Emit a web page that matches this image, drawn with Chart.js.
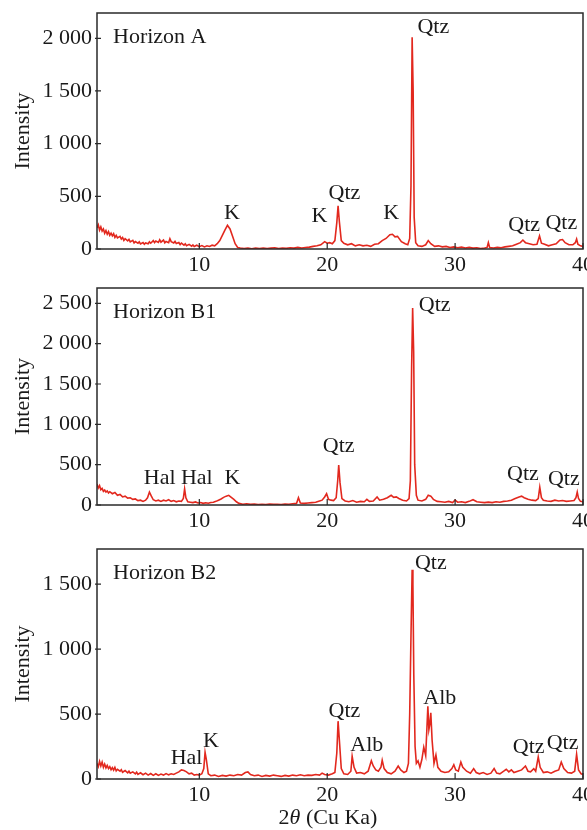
<!DOCTYPE html>
<html><head><meta charset="utf-8">
<script src="https://cdn.jsdelivr.net/npm/chart.js@4.4.1/dist/chart.umd.min.js"></script>
<style>
html,body{margin:0;padding:0;background:#fff;}
#wrap{position:relative;width:587px;height:830px;background:#fff;}
canvas{position:absolute;left:0;top:0;}
</style></head><body>
<div id="wrap">
<canvas id="cA" width="587" height="830"></canvas>
<canvas id="cB1" width="587" height="830"></canvas>
<canvas id="cB2" width="587" height="830"></canvas>
</div>
<script>
// ---- data (2θ in degrees, intensity in counts) ----
const xTickValues = [10, 20, 30, 40];
const yTicksA = [0, 500, 1000, 1500, 2000];
const yTicksB1 = [0, 500, 1000, 1500, 2000, 2500];
const yTicksB2 = [0, 500, 1000, 1500];

const seriesA = [[2.0,200],[2.1,230],[2.2,180],[2.3,210],[2.4,170],[2.5,190],[2.6,150],[2.7,175],[2.8,140],[2.9,165],[3.0,130],[3.1,150],[3.2,125],[3.3,145],[3.4,110],[3.5,130],[3.6,105],[3.8,120],[3.9,95],[4.0,110],[4.1,82],[4.2,98],[4.4,78],[4.5,92],[4.6,68],[4.8,82],[4.9,58],[5.0,70],[5.2,55],[5.3,68],[5.4,48],[5.6,62],[5.7,45],[5.8,58],[6.0,50],[6.1,68],[6.2,55],[6.4,80],[6.5,60],[6.6,75],[6.8,62],[6.9,88],[7.0,65],[7.2,85],[7.3,58],[7.4,72],[7.6,60],[7.7,98],[7.8,70],[8.0,58],[8.1,72],[8.2,52],[8.4,62],[8.5,42],[8.6,56],[8.8,36],[8.9,50],[9.0,32],[9.2,44],[9.4,26],[9.5,38],[9.6,24],[9.8,36],[10.0,22],[10.2,32],[10.4,20],[10.6,30],[10.8,24],[11.0,36],[11.2,30],[11.4,50],[11.6,80],[11.8,130],[12.0,180],[12.2,225],[12.4,190],[12.6,120],[12.8,50],[13.0,15],[13.2,10],[13.5,5],[13.8,10],[14.1,3],[14.4,8],[14.7,5],[15.0,10],[15.3,4],[15.6,8],[15.9,12],[16.2,5],[16.5,10],[16.8,6],[17.1,12],[17.4,8],[17.7,15],[18.0,10],[18.3,14],[18.6,18],[18.9,25],[19.2,30],[19.5,40],[19.8,70],[20.0,55],[20.2,60],[20.4,50],[20.6,80],[20.75,250],[20.85,410],[20.95,260],[21.1,80],[21.3,55],[21.6,40],[21.9,50],[22.2,30],[22.5,40],[22.8,30],[23.1,35],[23.4,25],[23.7,45],[24.0,50],[24.3,80],[24.6,100],[24.9,135],[25.1,140],[25.3,115],[25.5,120],[25.8,70],[26.1,50],[26.3,40],[26.45,100],[26.55,600],[26.64,2010],[26.72,1500],[26.8,300],[26.92,60],[27.1,30],[27.4,25],[27.7,40],[27.9,80],[28.1,50],[28.4,25],[28.7,30],[29.0,20],[29.3,25],[29.6,15],[29.9,20],[30.2,12],[30.5,18],[30.8,10],[31.1,15],[31.4,8],[31.7,12],[32.0,5],[32.3,10],[32.5,15],[32.6,60],[32.7,15],[33.0,10],[33.3,15],[33.6,12],[33.9,20],[34.2,25],[34.5,30],[34.8,45],[35.1,60],[35.3,85],[35.5,60],[35.8,50],[36.1,40],[36.4,45],[36.6,125],[36.75,55],[37.0,45],[37.3,30],[37.6,40],[37.9,50],[38.2,85],[38.4,90],[38.6,60],[38.9,40],[39.2,40],[39.4,60],[39.5,95],[39.6,45],[39.8,30],[40.0,25]];

const seriesB1 = [[2.0,260],[2.1,210],[2.2,240],[2.3,190],[2.4,205],[2.5,170],[2.6,185],[2.7,160],[2.8,175],[2.9,150],[3.0,165],[3.2,140],[3.4,155],[3.6,120],[3.8,130],[4.0,100],[4.2,110],[4.4,85],[4.6,90],[4.8,70],[5.0,75],[5.2,55],[5.4,60],[5.6,45],[5.8,60],[5.95,90],[6.1,160],[6.25,110],[6.4,65],[6.6,50],[6.8,60],[7.0,45],[7.2,60],[7.4,50],[7.6,65],[7.8,45],[8.0,55],[8.2,40],[8.4,50],[8.6,45],[8.75,80],[8.85,200],[8.95,90],[9.1,40],[9.3,35],[9.5,30],[9.7,38],[9.9,25],[10.1,30],[10.3,20],[10.5,28],[10.7,22],[10.9,30],[11.1,35],[11.3,45],[11.5,60],[11.7,75],[11.9,95],[12.1,110],[12.3,120],[12.5,95],[12.7,70],[12.9,40],[13.1,20],[13.4,10],[13.7,15],[14.0,8],[14.3,12],[14.6,6],[14.9,10],[15.2,5],[15.5,12],[15.8,8],[16.1,10],[16.4,6],[16.7,12],[17.0,10],[17.3,15],[17.6,20],[17.75,90],[17.9,25],[18.2,20],[18.5,25],[18.8,30],[19.1,35],[19.4,50],[19.6,60],[19.8,100],[19.95,140],[20.1,70],[20.3,60],[20.5,55],[20.7,90],[20.82,300],[20.9,496],[21.0,280],[21.15,80],[21.4,50],[21.7,40],[22.0,55],[22.3,35],[22.6,45],[22.9,40],[23.1,70],[23.3,45],[23.6,50],[23.9,100],[24.1,60],[24.4,70],[24.7,90],[25.0,120],[25.2,95],[25.4,100],[25.6,80],[25.9,60],[26.2,50],[26.4,80],[26.5,300],[26.6,1700],[26.68,2443],[26.76,1900],[26.84,500],[26.97,120],[27.1,60],[27.4,50],[27.7,70],[27.9,120],[28.1,110],[28.3,70],[28.6,45],[28.9,40],[29.2,35],[29.5,45],[29.8,30],[30.0,60],[30.2,35],[30.5,40],[30.8,30],[31.1,45],[31.4,65],[31.7,40],[32.0,35],[32.3,30],[32.6,35],[32.9,30],[33.2,40],[33.5,35],[33.8,45],[34.1,50],[34.4,60],[34.7,80],[35.0,100],[35.2,110],[35.4,90],[35.7,70],[36.0,60],[36.3,55],[36.5,80],[36.62,220],[36.75,90],[36.9,60],[37.2,50],[37.5,45],[37.8,60],[38.1,50],[38.4,55],[38.7,45],[39.0,50],[39.3,55],[39.45,90],[39.55,160],[39.65,80],[39.8,45],[40.0,40]];

const seriesB2 = [[2.0,120],[2.1,95],[2.2,135],[2.3,100],[2.4,130],[2.5,90],[2.6,115],[2.7,85],[2.8,105],[2.9,80],[3.0,95],[3.1,72],[3.2,88],[3.3,68],[3.4,90],[3.5,62],[3.6,75],[3.8,60],[3.9,72],[4.0,52],[4.2,65],[4.4,48],[4.5,60],[4.6,45],[4.8,55],[5.0,40],[5.1,52],[5.2,36],[5.4,48],[5.6,33],[5.8,45],[6.0,30],[6.2,42],[6.4,28],[6.6,40],[6.8,28],[7.0,38],[7.2,30],[7.4,42],[7.6,32],[7.8,40],[8.0,35],[8.2,45],[8.4,55],[8.6,70],[8.8,65],[9.0,55],[9.2,40],[9.4,45],[9.6,30],[9.8,35],[10.0,30],[10.2,40],[10.35,80],[10.45,205],[10.55,150],[10.7,40],[10.9,25],[11.2,30],[11.5,20],[11.8,28],[12.1,22],[12.4,30],[12.7,25],[13.0,35],[13.3,30],[13.6,50],[13.8,55],[14.0,35],[14.3,25],[14.6,30],[14.9,20],[15.2,28],[15.5,22],[15.8,30],[16.1,25],[16.4,20],[16.7,28],[17.0,22],[17.3,30],[17.6,25],[17.9,32],[18.2,25],[18.5,30],[18.8,28],[19.1,35],[19.4,30],[19.6,45],[19.8,35],[20.1,30],[20.4,40],[20.6,50],[20.75,200],[20.85,445],[20.95,300],[21.1,80],[21.3,40],[21.6,35],[21.85,60],[21.95,175],[22.1,90],[22.3,45],[22.6,50],[22.9,40],[23.2,60],[23.45,140],[23.6,100],[23.8,70],[24.0,60],[24.2,90],[24.3,145],[24.45,80],[24.7,50],[25.0,40],[25.3,60],[25.55,100],[25.75,70],[26.0,50],[26.2,60],[26.35,120],[26.45,500],[26.55,1100],[26.64,1610],[26.7,1500],[26.77,800],[26.87,250],[26.97,120],[27.1,140],[27.25,90],[27.4,150],[27.55,245],[27.7,180],[27.8,400],[27.87,560],[27.95,380],[28.02,420],[28.1,510],[28.2,300],[28.35,120],[28.5,185],[28.65,90],[28.9,60],[29.2,50],[29.5,55],[29.75,80],[29.9,110],[30.05,70],[30.25,60],[30.45,130],[30.6,90],[30.9,60],[31.2,45],[31.45,80],[31.65,50],[31.9,40],[32.2,50],[32.5,35],[32.8,45],[33.05,80],[33.25,45],[33.5,40],[33.8,60],[34.0,75],[34.2,55],[34.4,70],[34.6,50],[34.9,60],[35.2,70],[35.5,100],[35.7,60],[35.9,55],[36.15,80],[36.3,60],[36.5,170],[36.65,90],[36.9,50],[37.2,55],[37.5,45],[37.8,60],[38.1,70],[38.3,130],[38.5,80],[38.8,50],[39.1,45],[39.35,60],[39.5,190],[39.65,70],[39.85,40],[40.0,35]];

// peak labels: [text, 2θ, intensity at text baseline]
const labelsA = [['K',12.55,285],['K',19.4,257],['Qtz',21.35,476],['K',25.0,285],['Qtz',28.3,2048],['Qtz',35.4,170],['Qtz',38.3,190]];
const labelsB1 = [['Hal',6.9,260],['Hal',9.8,260],['K',12.6,260],['Qtz',20.9,657],['Qtz',28.4,2405],['Qtz',35.3,310],['Qtz',38.5,248]];
const labelsB2 = [['Hal',9.0,115],['K',10.9,245],['Qtz',21.35,475],['Alb',23.1,215],['Qtz',28.1,1615],['Alb',28.8,575],['Qtz',35.75,200],['Qtz',38.4,230]];

// ---- rendering ----
const FONT = "'Liberation Serif','Times New Roman',serif";
const FS = 22;
const INK = '#1a1a1a';
const RED = '#e2281e';
function fmt(v){ return String(v).replace(/\B(?=(\d{3})+(?!\d))/g, ' '); }

function makePanel(id, series, yMax, yTicks, labels, title, top, bottom, isLast){
  const xh = isLast ? 51 : 30;
  const deco = {
    id: 'deco_' + id,
    afterDraw(chart){
      const ctx = chart.ctx, a = chart.chartArea;
      const xs = chart.scales.x, ys = chart.scales.y;
      ctx.save();
      ctx.strokeStyle = '#2a2a2a';
      ctx.lineWidth = 1.5;
      ctx.strokeRect(a.left, a.top, a.right - a.left, a.bottom - a.top);
      ctx.lineWidth = 1.2;
      ctx.beginPath();
      xTickValues.forEach(v => { const p = xs.getPixelForValue(v); ctx.moveTo(p, a.bottom); ctx.lineTo(p, a.bottom - 6); });
      yTicks.forEach(v => { const p = ys.getPixelForValue(v); ctx.moveTo(a.left - 2, p); ctx.lineTo(a.left + 4, p); });
      ctx.stroke();
      ctx.fillStyle = INK;
      ctx.font = FS + 'px ' + FONT;
      ctx.textBaseline = 'alphabetic';
      ctx.textAlign = 'center';
      labels.forEach(l => ctx.fillText(l[0], xs.getPixelForValue(l[1]), ys.getPixelForValue(l[2])));
      ctx.textAlign = 'left';
      ctx.fillText(title, a.left + 16, a.top + 30);
      if (isLast){
        const parts = [['2', FS + 'px ' + FONT], ['θ', 'italic ' + FS + 'px ' + FONT], [' (Cu Ka)', FS + 'px ' + FONT]];
        let w = 0;
        parts.forEach(p => { ctx.font = p[1]; w += ctx.measureText(p[0]).width; });
        let x = (a.left + a.right) / 2 - 12 - w / 2;
        const y = a.bottom + 45;
        parts.forEach(p => { ctx.font = p[1]; ctx.fillText(p[0], x, y); x += ctx.measureText(p[0]).width; });
      }
      ctx.restore();
    }
  };
  return new Chart(document.getElementById(id), {
    type: 'line',
    data: { datasets: [{
      data: series.map(p => ({x: p[0], y: p[1]})),
      borderColor: RED, borderWidth: 1.6, pointRadius: 0, tension: 0, fill: false
    }]},
    options: {
      responsive: false, animation: false, devicePixelRatio: 1,
      events: [],
      layout: { padding: { left: 0, right: 4, top: top, bottom: 830 - bottom - xh } },
      plugins: { legend: { display: false }, tooltip: { enabled: false } },
      scales: {
        x: {
          type: 'linear', min: 2, max: 40,
          grid: { display: false, drawTicks: false },
          border: { display: false },
          afterBuildTicks: s => { s.ticks = xTickValues.map(v => ({value: v})); },
          afterFit: s => { s.height = xh; s.paddingLeft = 0; s.paddingRight = 0; s.paddingTop = 0; s.paddingBottom = 0; },
          ticks: { font: { family: FONT, size: FS }, color: INK, padding: 3, maxRotation: 0, autoSkip: false }
        },
        y: {
          type: 'linear', min: 0, max: yMax,
          grid: { display: false, drawTicks: false },
          border: { display: false },
          afterBuildTicks: s => { s.ticks = yTicks.map(v => ({value: v})); },
          afterFit: s => { s.width = 97; s.paddingTop = 0; s.paddingBottom = 0; s.paddingLeft = 0; s.paddingRight = 0; },
          ticks: { font: { family: FONT, size: FS }, color: INK, padding: 5, callback: v => fmt(v) },
          title: { display: true, text: 'Intensity', color: INK, font: { family: FONT, size: FS }, padding: { top: 10, bottom: 0 } }
        }
      }
    },
    plugins: [deco]
  });
}

makePanel('cA', seriesA, 2240, yTicksA, labelsA, 'Horizon A', 13, 249, false);
makePanel('cB1', seriesB1, 2690, yTicksB1, labelsB1, 'Horizon B1', 288, 505, false);
makePanel('cB2', seriesB2, 1770, yTicksB2, labelsB2, 'Horizon B2', 549, 779, true);
</script>
</body></html>
